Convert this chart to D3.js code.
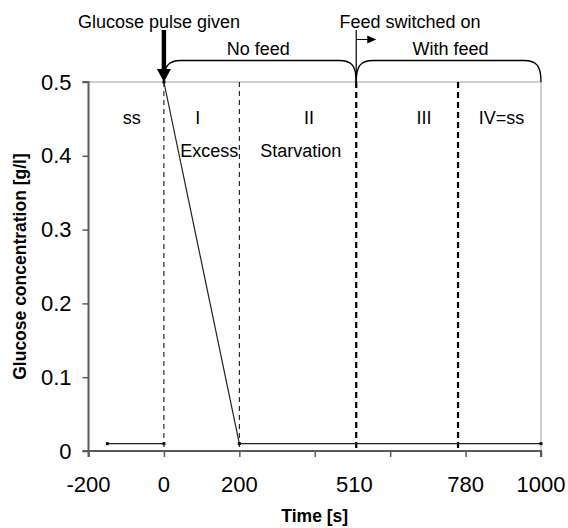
<!DOCTYPE html>
<html><head><meta charset="utf-8">
<script src="https://cdn.jsdelivr.net/npm/d3@7"></script>
<style>
body{margin:0;background:#fff;}
text{font-family:"Liberation Sans",Arial,sans-serif;fill:#000;}
</style></head>
<body><svg id="chart" width="568" height="528"></svg>
<script>
// ---- data ----
const xTicks = [-200, 0, 200, 400, 600, 800, 1000];
const xLabels = ["-200", "0", "200", "510", "780", "1000"];
const xLabelAt = [-200, 0, 200, 505, 800, 1000];
const yTicks = [0, 0.1, 0.2, 0.3, 0.4, 0.5];
const steadyT = [-150, 0];
const steadyC = [0.01, 0.01];
const pulseT = [0, 200, 1000];
const pulseC = [0.5, 0.01, 0.01];
const phaseLines = [0, 200, 510, 780];
const phaseBold = [false, false, true, true];
const phaseNames = ["ss", "I", "II", "III", "IV=ss"];
const phaseNameAt = [-85, 90, 385, 690, 895];
const phaseSub = ["Excess", "Starvation"];
const phaseSubAt = [120, 363];
const braces = [[0, 510], [510, 1000]];
const braceNames = ["No feed", "With feed"];
const braceNameAt = [250, 760];
const pulseLabel = "Glucose pulse given";
const feedLabel = "Feed switched on";
const pulseTime = 0, feedTime = 510;

const svg = d3.select("#chart");
const x = d3.scaleLinear().domain([-200, 1000]).range([88.5, 541]);
const y = d3.scaleLinear().domain([0, 0.5]).range([451, 82]);

// plot border (top/right)
svg.append("path").attr("d", `M${x(-200)},${y(0.5)}H${x(1000)}V${y(0)}`)
  .attr("fill", "none").attr("stroke", "#a0a0a0").attr("stroke-width", 1);

// phase dashed lines
svg.selectAll(".ph").data(phaseLines).enter().append("line")
  .attr("x1", d => x(d)).attr("x2", d => x(d))
  .attr("y1", y(0.5)).attr("y2", y(0))
  .attr("stroke", "#000")
  .attr("stroke-width", (d, i) => phaseBold[i] ? 2.2 : 1)
  .attr("stroke-dasharray", (d, i) => phaseBold[i] ? "6,4" : "5,4");

// axes
const yAxis = d3.axisLeft(y).tickValues(yTicks).tickSize(6).tickPadding(11)
  .tickFormat(d => d === 0 ? "0" : d3.format(".1f")(d));
const gy = svg.append("g").attr("transform", `translate(${x(-200)},0)`).call(yAxis);
const xAxis = d3.axisBottom(x).tickValues(xTicks).tickSize(6).tickFormat("");
const gx = svg.append("g").attr("transform", `translate(0,${y(0)})`).call(xAxis);
[gx, gy].forEach(g => {
  g.select(".domain").attr("stroke", "#5a5a5a").attr("stroke-width", 2);
  g.selectAll(".tick line").attr("stroke", "#5a5a5a").attr("stroke-width", 1.5);
  g.selectAll("text").style("font-size", "22px").attr("fill", "#000");
});
gy.select(".domain").attr("d", `M-6,${y(0)}H0V${y(0.5)}H-6`);
gx.select(".domain").attr("d", `M${x(-200)},6V0H${x(1000)}V6`);

svg.selectAll(".xl").data(xLabels).enter().append("text")
  .attr("x", (d, i) => x(xLabelAt[i])).attr("y", 492)
  .attr("text-anchor", "middle").style("font-size", "22px").text(d => d);

// data lines
const line = d3.line().x(d => x(d[0])).y(d => y(d[1]));
const s1 = steadyT.map((t, i) => [t, steadyC[i]]);
const s2 = pulseT.map((t, i) => [t, pulseC[i]]);
[s1, s2].forEach(s => {
  svg.append("path").attr("d", line(s)).attr("fill", "none")
    .attr("stroke", "#222").attr("stroke-width", 1.2);
  svg.selectAll(null).data(s).enter().append("rect")
    .attr("x", d => x(d[0]) - 1.5).attr("y", d => y(d[1]) - 1.5)
    .attr("width", 3).attr("height", 3).attr("fill", "#111");
});

// phase labels
svg.selectAll(".pn").data(phaseNames).enter().append("text")
  .attr("x", (d, i) => x(phaseNameAt[i])).attr("y", 124)
  .attr("text-anchor", "middle").style("font-size", "18px").text(d => d);
svg.selectAll(".ps").data(phaseSub).enter().append("text")
  .attr("x", (d, i) => x(phaseSubAt[i])).attr("y", 157)
  .attr("text-anchor", "middle").style("font-size", "18px").text(d => d);

// braces
const by = y(0.5), braceTop = 60.5;
braces.forEach(([a, b], i) => {
  const xa = x(a), xb = x(b);
  svg.append("path")
    .attr("d", `M${xa},${by}C${xa},${braceTop + 6} ${xa + 4},${braceTop} ${xa + 17},${braceTop}` +
      `L${xb - 17},${braceTop}C${xb - 4},${braceTop} ${xb},${braceTop + 6} ${xb},${by}`)
    .attr("fill", "none").attr("stroke", "#000").attr("stroke-width", 1.4);
  svg.append("text").attr("x", x(braceNameAt[i])).attr("y", 55)
    .attr("text-anchor", "middle").style("font-size", "18px").text(braceNames[i]);
});

// pulse arrow
const px = x(pulseTime);
svg.append("rect").attr("x", px - 2.2).attr("y", 30).attr("width", 4.4).attr("height", 40).attr("fill", "#000");
svg.append("path").attr("d", `M${px - 7},69L${px + 7},69L${px},${by}Z`).attr("fill", "#000");
svg.append("text").attr("x", 159).attr("y", 28).attr("text-anchor", "middle")
  .style("font-size", "18px").text(pulseLabel);

// feed switched on
const fx = x(feedTime);
svg.append("path").attr("d", `M${fx},${by}V30M${fx},39.5H${fx + 12}`)
  .attr("fill", "none").attr("stroke", "#000").attr("stroke-width", 1.2);
svg.append("path").attr("d", `M${fx + 11},35.5L${fx + 20},39.5L${fx + 11},43.5Z`).attr("fill", "#000");
svg.append("text").attr("x", 410).attr("y", 28).attr("text-anchor", "middle")
  .style("font-size", "18px").text(feedLabel);

// axis titles
svg.append("text").attr("x", (x(-200) + x(1000)) / 2).attr("y", 522)
  .attr("text-anchor", "middle").style("font-size", "17.5px").style("font-weight", "bold").text("Time [s]");
svg.append("text").attr("transform", `translate(26,${(y(0) + y(0.5)) / 2}) rotate(-90)`)
  .attr("text-anchor", "middle").style("font-size", "17.5px").style("font-weight", "bold")
  .text("Glucose concentration [g/l]");
</script></body></html>
